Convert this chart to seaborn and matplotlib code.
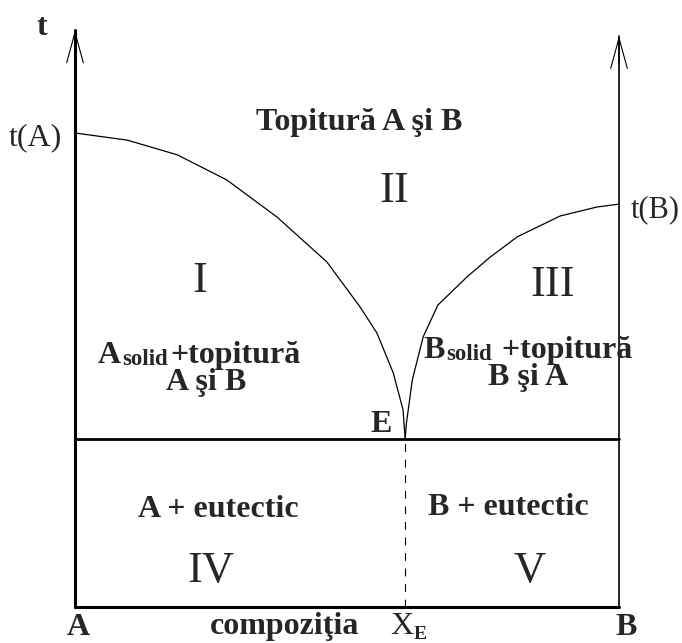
import numpy as np
import pandas as pd
import matplotlib
matplotlib.use("Agg")
import matplotlib.pyplot as plt
import seaborn as sns

sns.set_theme(style="white")
plt.rcParams['font.family'] = ['Liberation Serif', 'DejaVu Serif']

# --------------------------- data: eutectic phase diagram A-B ---------------------------
# composition (0 = pure A, 1 = pure B), temperature in arbitrary units (t(A) = 100)
t_A = 100.0
t_B = 85.0
t_E = 35.4
x_E = 0.607
axis_top_A = 121.7
axis_top_B = 120.5

comp_left = [0.0, 0.096, 0.188, 0.279, 0.371, 0.463, 0.524, 0.555, 0.585, 0.603, 0.607]
temp_left = [100.0, 98.5, 95.4, 90.1, 82.3, 72.8, 63.3, 57.8, 49.4, 41.6, 35.4]

comp_right = [0.607, 0.609, 0.620, 0.640, 0.667, 0.722, 0.763, 0.813, 0.892, 0.960, 1.0]
temp_right = [35.4, 38.6, 47.9, 57.0, 63.7, 69.8, 73.8, 78.1, 82.5, 84.4, 85.0]

lw_thick = 2.2
lw_thin = 1.2
big = 23
roman = 32

fig = plt.figure(figsize=(6.82, 6.43), dpi=100)
ax = fig.add_axes([0, 0, 1, 1])
ax.set_xlim(-0.1379, 1.1158)
ax.set_ylim(-7.59, 128.06)
ax.axis('off')


def line(xs, ys, lw, **kw):
    sns.lineplot(x=xs, y=ys, ax=ax, color='black', linewidth=lw, estimator=None,
                 sort=False, legend=False, **kw)


# axes of the diagram
line([0, 0], [0, axis_top_A], lw_thick)
line([1, 1], [0, axis_top_B], lw_thin)
line([0, 1], [0, 0], lw_thick)
line([0, 1], [t_E, t_E], 2.0)
line([x_E, x_E], [0, t_E], 0.8, linestyle=(0, (7, 7)))

# open arrow heads on the temperature axes
for xa, top in [(0, axis_top_A), (1, axis_top_B)]:
    ax.annotate("", xy=(xa, top), xytext=(xa, top - 6),
                arrowprops=dict(arrowstyle='->,head_length=1.1,head_width=0.3',
                                lw=0.8, color='black', shrinkA=0, shrinkB=0,
                                mutation_scale=20))

# liquidus curves
line(comp_left, temp_left, 0.9)
line(comp_right, temp_right, 0.9)

# --------------------------- labels ---------------------------
ax.text(-0.061, 120.7, "t", fontsize=big, weight='bold', ha='center', va='baseline')
ax.text(-0.024, 97.5, "t(A)", fontsize=big, ha='right', va='baseline')
ax.text(1.022, 82.3, "t(B)", fontsize=22, ha='left', va='baseline')

ax.text(0.522, 100.6, "Topitură A şi B", fontsize=big, weight='bold', ha='center', va='baseline')

ax.text(0.230, 66.5, "I", fontsize=roman, ha='center', va='baseline')
ax.text(0.586, 85.4, "II", fontsize=roman, ha='center', va='baseline')
ax.text(0.879, 65.6, "III", fontsize=roman, ha='center', va='baseline')
ax.text(0.250, 5.3, "IV", fontsize=roman, ha='center', va='baseline')
ax.text(0.836, 5.3, "V", fontsize=roman, ha='center', va='baseline')


def solid_label(x, y, letter, rest):
    t1 = ax.text(x, y, letter, fontsize=big, weight='bold', ha='left', va='baseline')
    t2 = ax.annotate("solid", xy=(1, 0), xycoords=t1, xytext=(1, 0), textcoords='offset points',
                     fontsize=16.5, weight='bold', ha='left', va='bottom')
    ax.annotate(rest, xy=(1, 0), xycoords=t2, xytext=(2, 0), textcoords='offset points',
                fontsize=big, weight='bold', ha='left', va='bottom')


solid_label(0.042, 51.5, "A", "+topitură")
ax.text(0.241, 45.8, "A şi B", fontsize=big, weight='bold', ha='center', va='baseline')
solid_label(0.640, 52.5, "B", " +topitură")
ax.text(0.833, 46.8, "B şi A", fontsize=big, weight='bold', ha='center', va='baseline')

ax.text(0.5625, 36.9, "E", fontsize=big, weight='bold', ha='center', va='baseline')

ax.text(0.263, 19.0, "A + eutectic", fontsize=big, weight='bold', ha='center', va='baseline')
ax.text(0.796, 19.4, "B + eutectic", fontsize=big, weight='bold', ha='center', va='baseline')

# composition axis
ax.text(0.0055, -5.9, "A", fontsize=big, weight='bold', ha='center', va='baseline')
ax.text(0.386, -5.6, "compoziţia", fontsize=big, weight='bold', ha='center', va='baseline')
tx = ax.text(0.579, -5.6, "X", fontsize=big, ha='left', va='baseline')
ax.annotate("E", xy=(1, 0), xycoords=tx, xytext=(0, -1.5), textcoords='offset points',
            fontsize=14, weight='bold', ha='left', va='bottom')
ax.text(1.013, -5.9, "B", fontsize=big, weight='bold', ha='center', va='baseline')

fig.savefig("out.png", dpi=100)
